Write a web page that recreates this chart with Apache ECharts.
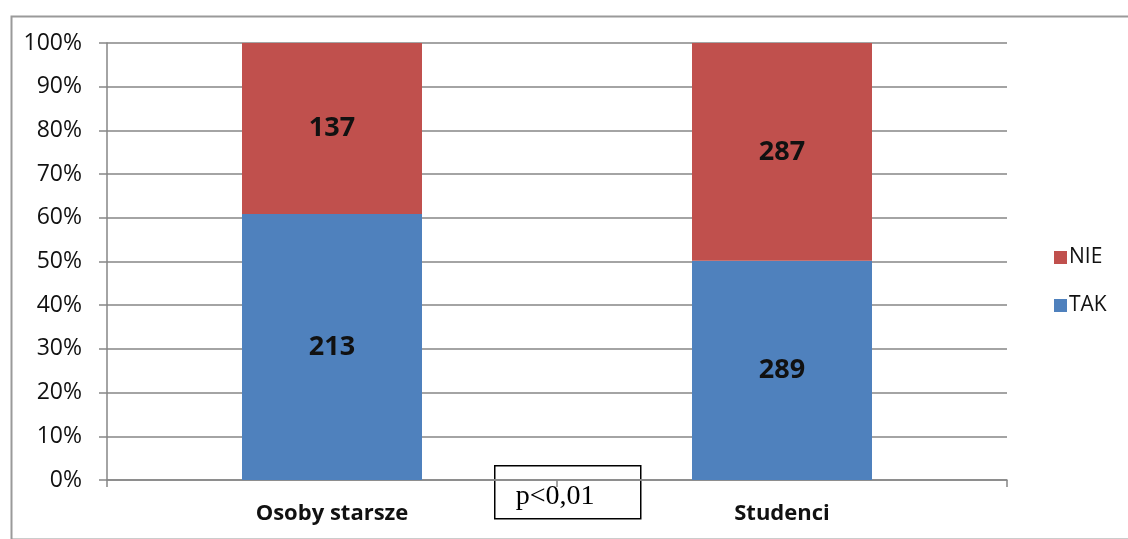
<!DOCTYPE html>
<html>
<head>
<meta charset="utf-8">
<script src="https://cdn.jsdelivr.net/npm/echarts@6/dist/echarts.min.js"></script>
<style>
  html, body { margin: 0; padding: 0; background: #fff; }
  #chart { width: 1128px; height: 539px; }
</style>
</head>
<body>
<div id="chart"></div>
<script>
// Responses by group (counts)
const categories = ['Osoby starsze', 'Studenci'];
const takCounts = [213, 289];
const nieCounts = [137, 287];
const yTicks = [0, 10, 20, 30, 40, 50, 60, 70, 80, 90, 100];
const noteText = 'p<0,01';

const totals = categories.map((_, i) => takCounts[i] + nieCounts[i]);
const takPct = takCounts.map((v, i) => ({ value: v / totals[i] * 100, count: v }));
const niePct = nieCounts.map((v, i) => ({ value: v / totals[i] * 100, count: v }));

const chart = echarts.init(document.getElementById('chart'), null, { renderer: 'canvas' });

const FONT = 'Open Sans, Lato, sans-serif';

const labelStyle = {
  show: true,
  position: 'inside',
  formatter: p => p.data.count,
  color: '#111',
  fontFamily: FONT,
  fontWeight: 'bold',
  fontSize: 27
};

chart.setOption({
  animation: false,
  backgroundColor: '#fff',
  grid: { left: 107, right: 121, top: 43, bottom: 59 },
  legend: {
    orient: 'vertical',
    left: 1049,
    top: 242,
    itemWidth: 13,
    itemHeight: 13,
    itemGap: 27,
    icon: 'rect',
    data: ['NIE', 'TAK'],
    textStyle: { fontFamily: FONT, fontSize: 21, color: '#111', padding: [0, 0, 0, -3] }
  },
  xAxis: {
    type: 'category',
    data: categories,
    axisLine: { lineStyle: { color: '#868686', width: 1.5 } },
    axisTick: { show: true, length: 7, lineStyle: { color: '#868686', width: 1.5 } },
    axisLabel: {
      color: '#111',
      fontFamily: FONT,
      fontWeight: 'bold',
      fontSize: 22,
      margin: 23
    }
  },
  yAxis: {
    type: 'value',
    min: 0,
    max: 100,
    interval: 10,
    axisLine: { show: true, lineStyle: { color: '#868686', width: 1.5 } },
    axisTick: { show: true, length: 8, lineStyle: { color: '#868686', width: 1.5 } },
    splitLine: { lineStyle: { color: '#868686', width: 1.5 } },
    axisLabel: {
      formatter: v => (yTicks.includes(v) ? v + '%' : ''),
      color: '#111',
      fontFamily: FONT,
      fontSize: 23,
      margin: 25
    }
  },
  series: [
    {
      name: 'TAK',
      type: 'bar',
      stack: 'all',
      barWidth: '40%',
      itemStyle: { color: '#4F81BD' },
      label: labelStyle,
      data: takPct
    },
    {
      name: 'NIE',
      type: 'bar',
      stack: 'all',
      barWidth: '40%',
      itemStyle: { color: '#C0504D' },
      label: labelStyle,
      data: niePct
    }
  ],
  graphic: [
    {
      // outer chart frame
      type: 'rect',
      left: 9,
      top: 14,
      shape: { width: 1130, height: 523 },
      style: { fill: null, stroke: '#9a9a9a', lineWidth: 2 },
      z: 0
    },
    {
      type: 'group',
      left: 494,
      top: 465,
      z: 100,
      children: [
        {
          type: 'rect',
          shape: { width: 146, height: 53 },
          style: { fill: '#fff', stroke: '#000', lineWidth: 1.5 }
        },
        {
          type: 'text',
          style: {
            x: 21,
            y: 31,
            text: noteText,
            font: '28px "Liberation Serif", "DejaVu Serif", serif',
            verticalAlign: 'middle',
            fill: '#000'
          }
        }
      ]
    }
  ]
});
</script>
</body>
</html>
